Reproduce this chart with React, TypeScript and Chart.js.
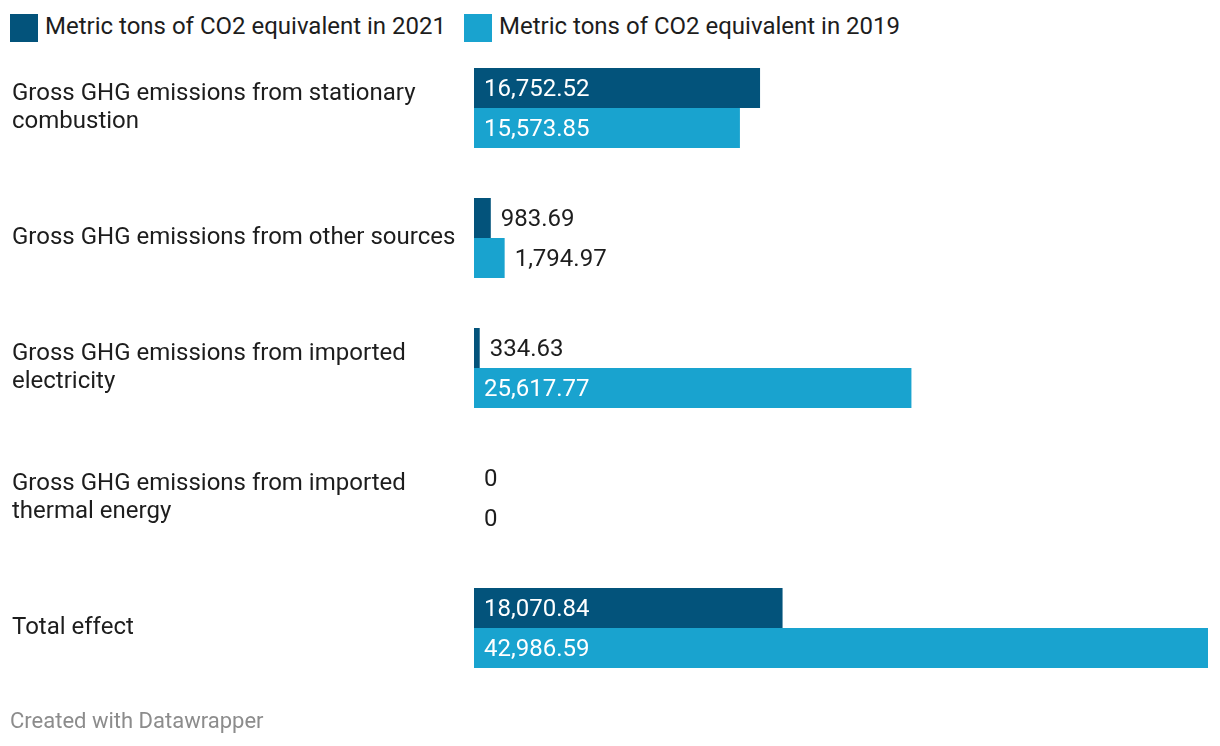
import React, { useEffect, useRef } from "react";
import { Chart, registerables } from "chart.js";

Chart.register(...registerables);

const categories: string[][] = [
  ["Gross GHG emissions from stationary", "combustion"],
  ["Gross GHG emissions from other sources"],
  ["Gross GHG emissions from imported", "electricity"],
  ["Gross GHG emissions from imported", "thermal energy"],
  ["Total effect"],
];
const values2021: number[] = [16752.52, 983.69, 334.63, 0, 18070.84];
const values2019: number[] = [15573.85, 1794.97, 25617.77, 0, 42986.59];
const seriesNames: string[] = [
  "Metric tons of CO2 equivalent in 2021",
  "Metric tons of CO2 equivalent in 2019",
];
const colors: string[] = ["#03537b", "#19a3cf"];

const FONT = "Roboto, 'Noto Sans', sans-serif";

const fmt = (v: number) =>
  v === 0
    ? "0"
    : v.toLocaleString("en-US", { minimumFractionDigits: 2, maximumFractionDigits: 2 });

const valueLabels = {
  id: "valueLabels",
  afterDatasetsDraw(chart: any) {
    const ctx = chart.ctx;
    ctx.save();
    ctx.font = `24px ${FONT}`;
    ctx.textBaseline = "middle";
    ctx.textAlign = "left";
    chart.data.datasets.forEach((ds: any, di: number) => {
      const meta = chart.getDatasetMeta(di);
      meta.data.forEach((el: any, i: number) => {
        const txt = fmt(ds.data[i]);
        const w = ctx.measureText(txt).width;
        const barW = el.x - el.base;
        if (barW > w + 20) {
          ctx.fillStyle = "#ffffff";
          ctx.fillText(txt, el.base + 10, el.y + 2);
        } else {
          ctx.fillStyle = "#1d1d1d";
          ctx.fillText(txt, el.x + 10, el.y + 2);
        }
      });
    });
    ctx.restore();
  },
};

export default function App() {
  const ref = useRef<HTMLCanvasElement | null>(null);

  useEffect(() => {
    document.body.style.margin = "0";
    if (!ref.current) return;
    const chart = new Chart(ref.current, {
      type: "bar",
      data: {
        labels: categories,
        datasets: [
          {
            label: seriesNames[0],
            data: values2021,
            backgroundColor: colors[0],
            categoryPercentage: 80 / 130,
            barPercentage: 1,
          },
          {
            label: seriesNames[1],
            data: values2019,
            backgroundColor: colors[1],
            categoryPercentage: 80 / 130,
            barPercentage: 1,
          },
        ],
      },
      options: {
        indexAxis: "y",
        responsive: false,
        animation: false,
        layout: { padding: { left: 12, right: 12, top: 0, bottom: 0 } },
        plugins: {
          legend: { display: false },
          tooltip: { enabled: false },
        },
        scales: {
          x: { display: false, min: 0, max: 42986.59 },
          y: {
            grid: { display: false },
            border: { display: false },
            afterFit(scale: any) {
              scale.width = 462;
            },
            ticks: {
              crossAlign: "far",
              padding: 0,
              color: "#1d1d1d",
              font: { family: FONT, size: 24, lineHeight: 28 / 24 },
            },
          },
        },
      },
      plugins: [valueLabels],
    } as any);
    return () => chart.destroy();
  }, []);

  return (
    <div style={{ position: "relative", width: 1220, height: 746, fontFamily: FONT, background: "#fff" }}>
      <div style={{ position: "absolute", left: 10, top: 14, display: "flex", alignItems: "center" }}>
        {seriesNames.map((n, i) => (
          <div key={n} style={{ display: "flex", alignItems: "center", marginRight: i === 0 ? 18 : 0 }}>
            <div style={{ width: 28, height: 28, background: colors[i], marginRight: 7 }} />
            <span style={{ fontSize: 24, color: "#1d1d1d", lineHeight: "28px", position: "relative", top: -2 }}>{n}</span>
          </div>
        ))}
      </div>
      <canvas ref={ref} width={1220} height={692} style={{ position: "absolute", left: 0, top: 29 }} />
      <div style={{ position: "absolute", left: 10, top: 708, fontSize: 22, color: "#8c8c8c" }}>
        Created with Datawrapper
      </div>
    </div>
  );
}
